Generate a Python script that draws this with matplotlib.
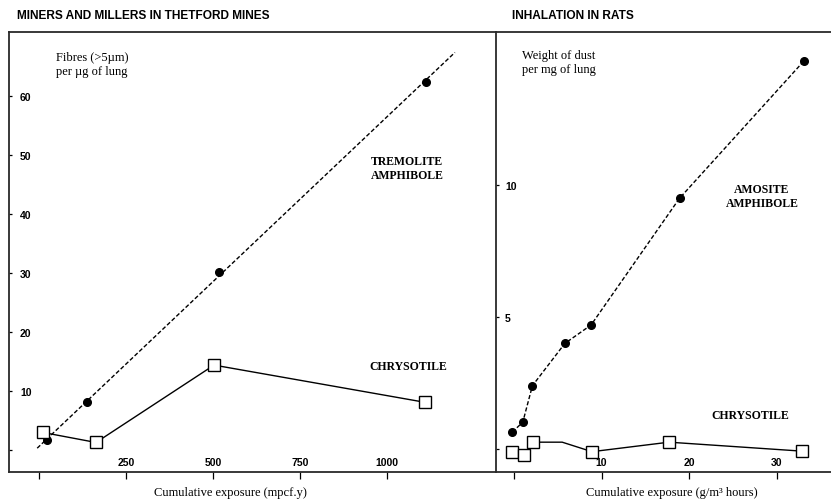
import numpy as np
import matplotlib.pyplot as plt

# left panel: miners and millers (Thetford Mines)
trem_x = [23, 138, 517, 1112]
trem_y = [1.7, 8.1, 30.2, 62.4]
chry_mine_x = [11, 164, 503, 1109]
chry_mine_y = [3.0, 1.3, 14.4, 8.1]
fit_range = [-5, 1195]

# right panel: inhalation in rats
amos_x = [-0.2, 1.0, 2.1, 5.8, 8.8, 18.9, 33.1]
amos_y = [0.64, 1.02, 2.4, 4.0, 4.7, 9.5, 14.7]
chry_rat_x = [-0.2, 1.1, 2.2, 5.5, 8.9, 17.7, 32.9]
chry_rat_y = [-0.1, -0.23, 0.26, 0.26, -0.1, 0.26, -0.08]
chry_rat_marked = [0, 1, 2, 4, 5, 6]

left_xticks = [0, 250, 500, 750, 1000]
left_xlabels = ['', '250', '500', '750', '1000']
left_yticks = [0, 10, 20, 30, 40, 50, 60]
left_ylabels = ['', '10', '20', '30', '40', '50', '60']
right_xticks = [0, 10, 20, 30]
right_xlabels = ['', '10', '20', '30']
right_yticks = [0, 5, 10]
right_ylabels = ['', '5', '10']

serif = 'Liberation Serif'
sans = 'Liberation Sans'
dash = (0, (3, 1.6))
spine_col = '#2a2a2a'

fig = plt.figure(figsize=(8.31, 5.02), dpi=100)
axL = fig.add_axes([9 / 831, 1 - 473 / 502, (496 - 9) / 831, 440 / 502])
axR = fig.add_axes([496 / 831, 1 - 473 / 502, (831 - 496) / 831, 440 / 502])

# left panel
coef = np.polyfit(trem_x, trem_y, 1)
fx = np.array(fit_range)
axL.plot(fx, np.polyval(coef, fx), color='black', lw=1.0, ls=dash)
axL.plot(trem_x, trem_y, 'o', color='black', ms=5.5)
axL.plot(chry_mine_x, chry_mine_y, '-s', color='black', lw=1.0, ms=8,
         mfc='white', mec='black', mew=1.0)
axL.set_xlim(-86, 1313)
axL.set_ylim(-3.7, 70.8)

# right panel
axR.plot(amos_x, amos_y, 'o', color='black', ms=5.5, ls=dash, lw=1.0)
axR.plot(chry_rat_x, chry_rat_y, '-s', color='black', lw=1.0, ms=8,
         mfc='white', mec='black', mew=1.0, markevery=chry_rat_marked)
axR.set_xlim(-2.06, 36.2)
axR.set_ylim(-0.87, 15.8)

for ax, xt, xl, yt, yl in [(axL, left_xticks, left_xlabels, left_yticks, left_ylabels),
                           (axR, right_xticks, right_xlabels, right_yticks, right_ylabels)]:
    ax.set_xticks(xt)
    ax.set_xticklabels(xl, fontfamily=sans, fontweight='bold', fontsize=7.5)
    ax.set_yticks(yt)
    ax.set_yticklabels(yl, fontfamily=sans, fontweight='bold', fontsize=7.5)
    ax.tick_params(axis='x', direction='out', length=5, width=0.9, pad=-15.5)
    ax.tick_params(axis='y', direction='in', length=2.5, width=0.9, pad=-8)
    for lab in ax.get_yticklabels():
        lab.set_horizontalalignment('left')
    ax.spines['right'].set_visible(False)
    for s in ['left', 'top', 'bottom']:
        ax.spines[s].set_color(spine_col)
        ax.spines[s].set_linewidth(1.3)
    ax.set_facecolor('white')

axR.tick_params(axis='y', pad=-6.5)

# titles
fig.text(17 / 831, 1 - 16 / 502, 'MINERS AND MILLERS IN THETFORD MINES',
         fontfamily=sans, fontweight='bold', fontsize=8.6, va='center')
fig.text(512 / 831, 1 - 16 / 502, 'INHALATION IN RATS',
         fontfamily=sans, fontweight='bold', fontsize=8.6, va='center')

# axis annotations
fig.text(56 / 831, 1 - 65 / 502, 'Fibres (>5\u00b5m)\nper \u00b5g of lung',
         fontfamily=serif, fontsize=9, va='center', linespacing=1.25)
fig.text(522 / 831, 1 - 63 / 502, 'Weight of dust\nper mg of lung',
         fontfamily=serif, fontsize=9, va='center', linespacing=1.25)
fig.text(407 / 831, 1 - 169 / 502, 'TREMOLITE\nAMPHIBOLE',
         fontfamily=serif, fontsize=8.5, fontweight='semibold', ha='center', va='center',
         linespacing=1.3)
fig.text(408 / 831, 1 - 367 / 502, 'CHRYSOTILE',
         fontfamily=serif, fontsize=8.5, fontweight='semibold', ha='center', va='center')
fig.text(762 / 831, 1 - 197 / 502, 'AMOSITE\nAMPHIBOLE',
         fontfamily=serif, fontsize=8.5, fontweight='semibold', ha='center', va='center',
         linespacing=1.3)
fig.text(750 / 831, 1 - 416 / 502, 'CHRYSOTILE',
         fontfamily=serif, fontsize=8.5, fontweight='semibold', ha='center', va='center')

fig.text(230 / 831, 1 - 493 / 502, 'Cumulative exposure (mpcf.y)',
         fontfamily=serif, fontsize=9, ha='center', va='center')
fig.text(672 / 831, 1 - 493 / 502, 'Cumulative exposure (g/m\u00b3 hours)',
         fontfamily=serif, fontsize=9, ha='center', va='center')

fig.savefig('out.png', dpi=100)
